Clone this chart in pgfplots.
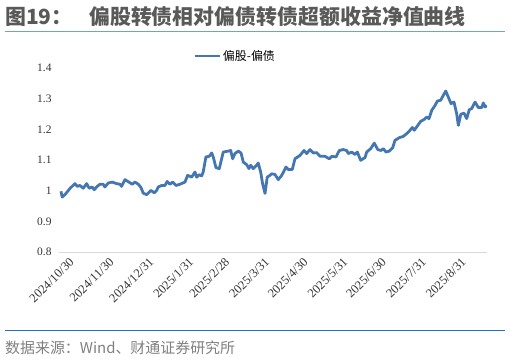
\documentclass[border=0pt]{standalone}
\usepackage{pgfplots}
\pgfplotsset{compat=1.18}
\usepackage{fontspec}
\setmainfont{Liberation Serif}
\newfontfamily\cjk{Noto Sans CJK SC}
\definecolor{lineblue}{RGB}{68,118,178}
\definecolor{titlegray}{RGB}{89,89,89}
\definecolor{toprule}{RGB}{112,160,212}
\definecolor{botrule}{RGB}{40,110,200}
\begin{document}
\begin{tikzpicture}[x=1bp,y=1bp]
\path[use as bounding box] (0,0) rectangle (510,360);
\node[anchor=west, inner sep=0, text=titlegray, font=\cjk\fontsize{21}{23}\selectfont\bfseries] at (5,343) {图19：};
\node[anchor=west, inner sep=0, text=titlegray, font=\cjk\fontsize{21}{23}\selectfont\bfseries] at (89,343) {偏股转债相对偏债转债超额收益净值曲线};
\draw[toprule, line width=1bp] (5,328.3) -- (505,328.3);
\draw[botrule, line width=1bp] (5,29.3) -- (505,29.3);
\node[anchor=west, inner sep=0, text=gray, font=\cjk\fontsize{15}{17}\selectfont] at (5,12) {数据来源：Wind、财通证券研究所};
\begin{axis}[
  at={(59bp,108bp)}, anchor=south west,
  scale only axis, width=428bp, height=184bp,
  xmin=-1.5, xmax=331.5, ymin=0.8, ymax=1.4,
  ytick={0.8,0.9,1,1.1,1.2,1.3,1.4},
  yticklabels={0.8,0.9,1,1.1,1.2,1.3,1.4},
  xtick={0,31,62,93,121,152,182,213,243,274,305},
  xticklabels={2024/10/30,2024/11/30,2024/12/31,2025/1/31,2025/2/28,2025/3/31,2025/4/30,2025/5/31,2025/6/30,2025/7/31,2025/8/31},
  axis x line*=bottom, axis y line*=left,
  x axis line style={draw={rgb,255:red,217;green,217;blue,217}, line width=1bp, -},
  y axis line style={draw=none},
  major tick length=0pt,
  yticklabel style={font=\fontsize{11.5}{12}\selectfont, text=black!80, xshift=-4bp},
  xticklabel style={font=\fontsize{12.5}{13}\selectfont, text=black!80, rotate=45, anchor=north east, inner sep=1bp, xshift=3bp, yshift=-8bp},
  legend style={at={(0.313,1.065)}, anchor=west, draw=none, fill=none, font=\cjk\fontsize{12}{14}\selectfont, inner sep=0pt},
  legend image code/.code={\draw[#1, line width=2.8bp] (0bp,0bp) -- (25bp,0bp);},
]
\addplot[lineblue, line width=2.8bp, line join=round] coordinates {
(0,0.998) (1.0,0.979) (3.1,0.987) (7.0,1.007) (10.9,1.023) (12.7,1.014) (14.8,1.017) (17.4,1.008) (20.0,1.023) (22.0,1.008) (24.4,1.012) (25.9,1.003) (28.2,1.014) (30.4,1.021) (32.9,1.021) (34.2,1.012) (36.8,1.025) (39.9,1.028) (43.3,1.023) (45.9,1.021) (47.2,1.014) (49.8,1.036) (52.9,1.028) (55.5,1.021) (57.6,1.028) (60.2,1.021) (62.3,1.010) (64.0,0.992) (66.7,0.987) (70.0,1.001) (72.6,0.993) (74.5,1.001) (75.7,1.012) (78.4,1.017) (80.9,1.017)
(82.7,1.030) (84.8,1.021) (86.9,1.028) (89.5,1.017) (92.6,1.021) (96.5,1.028) (98.6,1.050) (101.7,1.044) (104.3,1.061) (105.6,1.044) (107.6,1.052) (109.5,1.048) (110.7,1.061) (112.8,1.110) (115.4,1.112) (117.3,1.123) (118.5,1.110) (120.6,1.075) (123.2,1.072) (126.3,1.126) (130.2,1.129) (132.1,1.131) (133.6,1.104) (135.4,1.121) (138.0,1.129) (140.1,1.123) (141.9,1.093) (144.5,1.085) (146.3,1.072) (147.6,1.083) (149.6,1.072) (152.3,1.083) (153.5,1.090) (155.4,1.061) (156.9,1.023) (158.8,0.991) (160.5,1.044) (162.6,1.050) (164.0,1.055) (166.5,1.053) (169.1,1.036) (171.8,1.050) (175.1,1.077) (176.9,1.069) (180.0,1.069) (182.1,1.104) (186.0,1.115) (189.1,1.131) (191.2,1.121) (193.8,1.134) (196.3,1.123) (199.0,1.124) (201.6,1.112) (205.4,1.112) (208.8,1.104) (210.7,1.112) (214.0,1.110) (216.6,1.131) (219.7,1.134) (222.3,1.131) (223.6,1.121) (226.2,1.126) (228.8,1.118) (230.6,1.126) (233.2,1.099) (236.6,1.108) (237.9,1.126) (241.0,1.137) (243.8,1.155) (246.5,1.134) (249.0,1.131) (250.8,1.137) (252.9,1.126) (255.5,1.129) (258.1,1.140) (259.9,1.164) (263.3,1.173) (266.4,1.177) (269.0,1.186) (271.6,1.197) (273.4,1.206) (274.9,1.197) (276.8,1.208) (279.9,1.226) (282.5,1.232) (284.6,1.240) (286.4,1.235) (288.5,1.262) (291.1,1.278) (292.8,1.292) (295.5,1.295) (297.5,1.311) (299.4,1.325) (301.4,1.305) (303.5,1.284) (305.8,1.289) (307.9,1.251) (309.2,1.213) (311.1,1.249) (313.6,1.253) (315.7,1.235) (317.7,1.264) (319.6,1.268) (322.2,1.289) (324.7,1.271) (327.4,1.271) (328.6,1.286) (330.0,1.273) (331.3,1.278)
};
\addlegendentry{偏股-偏债}
\end{axis}
\end{tikzpicture}
\end{document}
